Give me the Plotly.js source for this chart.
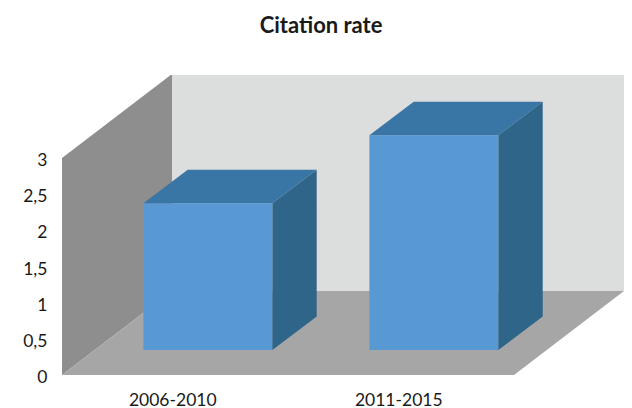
<!DOCTYPE html>
<html><head><meta charset="utf-8">
<script src="https://cdn.plot.ly/plotly-3.0.1.min.js"></script>
<style>html,body{margin:0;padding:0;background:#fff}</style></head>
<body><div id="chart" style="width:632px;height:408px"></div>
<script>
const categories = ["2006-2010", "2011-2015"];
const citationRate = [2.03, 2.97];
const yTickValues = [0, 0.5, 1, 1.5, 2, 2.5, 3];
const yTickLabels = ["0", "0,5", "1", "1,5", "2", "2,5", "3"];

// oblique projection, in axis units (226 px per category, 72.33 px per value unit)
const wallDX = 110 / 226, wallDY = 84 / 72.33;
const frontDX = 32.9 / 226, frontDY = 25 / 72.33;
const barDX = 44.3 / 226, barDY = 33.5 / 72.33;
const barW = 129 / 226;
const yMax = 3, nCat = categories.length;

const centers = categories.map((c, i) => i + 0.5 + frontDX);
const poly = (pts, color) => ({
  type: "path", xref: "x", yref: "y", layer: "below",
  path: "M" + pts.map(p => p.join(",")).join("L") + "Z",
  fillcolor: color, line: {width: 0}
});
const shapes = [
  poly([[wallDX, wallDY], [nCat + wallDX, wallDY], [nCat + wallDX, yMax + wallDY], [wallDX, yMax + wallDY]], "#dcdddd"),
  poly([[0, 0], [wallDX, wallDY], [wallDX, yMax + wallDY], [0, yMax]], "#8e8e8e"),
  poly([[0, 0], [nCat, 0], [nCat + wallDX, wallDY], [wallDX, wallDY]], "#a6a6a6")
];

const traces = [{
  type: "bar", x: centers, y: citationRate, base: frontDY, width: barW,
  marker: {color: "#5899d3", line: {width: 0}}, hoverinfo: "skip"
}];
citationRate.forEach((v, i) => {
  const l = centers[i] - barW / 2, r = centers[i] + barW / 2, b = frontDY, t = frontDY + v;
  traces.push({
    type: "scatter", mode: "lines", fill: "toself", fillcolor: "#3a76a5", line: {width: 0},
    x: [l, r, r + barDX, l + barDX, l], y: [t, t, t + barDY, t + barDY, t], hoverinfo: "skip"
  });
  traces.push({
    type: "scatter", mode: "lines", fill: "toself", fillcolor: "#2f6589", line: {width: 0},
    x: [r, r + barDX, r + barDX, r, r], y: [b, b + barDY, t + barDY, t, b], hoverinfo: "skip"
  });
});

const font = {family: "Lato, 'Open Sans', sans-serif", size: 17.5, color: "#1a1a1a"};
Plotly.newPlot("chart", traces, {
  width: 632, height: 408, showlegend: false, paper_bgcolor: "#fff", plot_bgcolor: "rgba(0,0,0,0)",
  margin: {l: 62, r: 7, t: 75, b: 33, pad: 0},
  title: {text: "<b>Citation rate</b>", x: 0.508, xanchor: "center", y: 0.938, yanchor: "middle",
          font: {family: "Lato, sans-serif", size: 22, color: "#1a1a1a"}},
  xaxis: {range: [0, 563 / 226], showgrid: false, zeroline: false, showline: false,
          tickmode: "array", tickvals: categories.map((c, i) => i + 0.49), ticktext: categories,
          ticks: "", ticklabelstandoff: 12, tickfont: font},
  yaxis: {range: [0, 300 / 72.33], showgrid: false, zeroline: false, showline: false,
          tickmode: "array", tickvals: yTickValues, ticktext: yTickLabels,
          ticks: "outside", ticklen: 10, tickcolor: "rgba(0,0,0,0)", ticklabelshift: 2, tickfont: font},
  shapes: shapes
}, {displayModeBar: false, staticPlot: true});
</script></body></html>
